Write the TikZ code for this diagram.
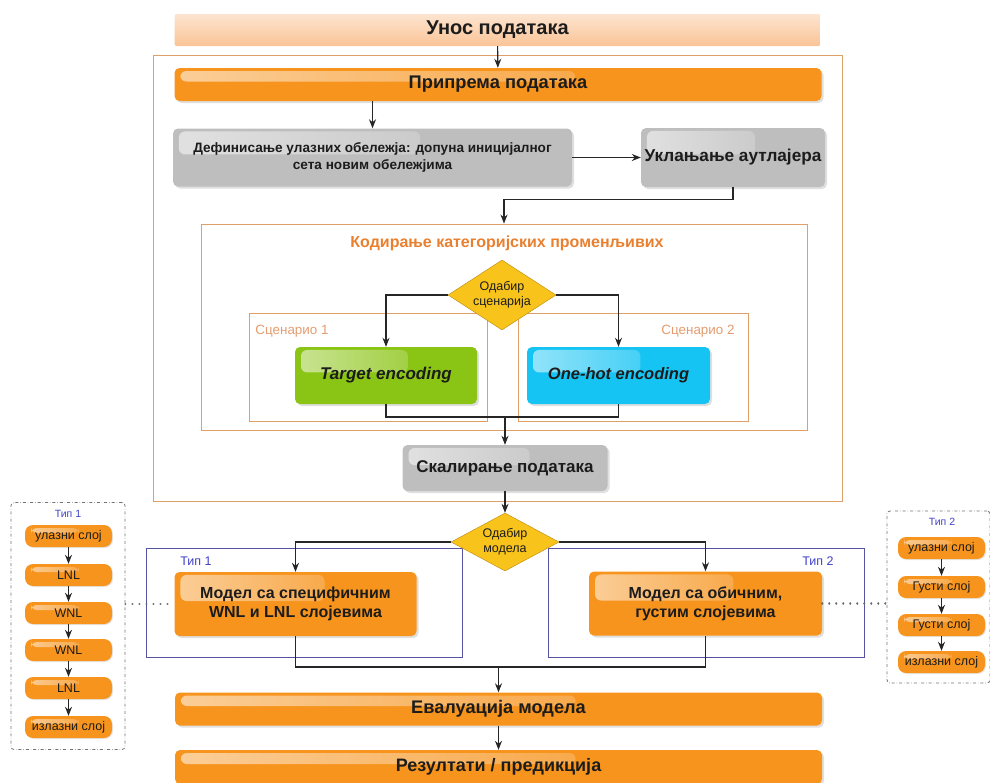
\documentclass[tikz,border=0pt]{standalone}
\usepackage{fontspec}
\setmainfont{Liberation Sans}
\usetikzlibrary{shapes.geometric, arrows.meta, positioning, calc, shadows, fadings}
\definecolor{flowpeach}{RGB}{250,196,150}
\definecolor{floworange}{RGB}{247,148,29}
\definecolor{flowgray}{RGB}{190,190,190}
\definecolor{flowgreen}{RGB}{138,196,20}
\definecolor{flowcyan}{RGB}{22,196,244}
\definecolor{flowgold}{RGB}{248,196,28}
\definecolor{goldedge}{RGB}{185,135,10}
\definecolor{frameorange}{RGB}{222,160,104}
\definecolor{framelabel}{RGB}{232,128,48}
\definecolor{scenlabel}{RGB}{228,156,110}
\definecolor{frameblue}{RGB}{84,84,160}
\definecolor{labelblue}{RGB}{64,64,200}
\definecolor{textdark}{RGB}{28,28,28}

\begin{document}
\begin{tikzpicture}[x=1pt, y=-1pt,
  glossy/.style={path picture={
    \fill[white, opacity=0.55, path fading=east, rounded corners=6pt]
      ($(path picture bounding box.north west)+(6pt,-3pt)$) rectangle
      ($(path picture bounding box.west)!0.62!(path picture bounding box.east)+(0pt,3pt)$);}},
  box/.style={rounded corners=5pt, align=center, text=textdark, inner sep=1pt,
    font=\bfseries\fontsize{16}{19}\selectfont,
    drop shadow={opacity=0.25, shadow xshift=2pt, shadow yshift=-2pt}, glossy},
  orangebox/.style={box, fill=floworange},
  graybox/.style={box, fill=flowgray},
  pill/.style={rounded corners=8pt, fill=floworange, text=textdark, inner sep=1pt,
    minimum width=87pt, minimum height=22pt, font=\fontsize{12.5}{14}\selectfont,
    drop shadow={opacity=0.2, shadow xshift=1pt, shadow yshift=-1pt}, glossy},
  choice/.style={diamond, draw=goldedge, fill=flowgold, aspect=1.6, inner sep=0pt,
    align=center, text=textdark, font=\fontsize{12.5}{15}\selectfont},
  frame/.style={draw=frameorange, line width=0.9pt},
  typeframe/.style={draw=frameblue, line width=0.9pt},
  layerframe/.style={draw=black!55, dash dot, line width=0.8pt, rounded corners=3pt},
  arr/.style={-{Stealth[length=9pt, width=7pt]}, line width=1.1pt, black!85},
  link/.style={line width=1.1pt, black!85},
  dots/.style={line width=2.2pt, black!60, line cap=round, dash pattern=on 0.01pt off 7pt}
]
  \useasboundingbox (0,0) rectangle (990,782);

  % Frames
  \node[frame, minimum width=689pt, minimum height=446pt] (prep) at (497.5,278) {};
  \node[frame, minimum width=606pt, minimum height=206pt] (kodiranje) at (504,327) {};
  \node[font=\bfseries\fontsize{16}{19}\selectfont, text=framelabel] (kodtitle) at (507,243)
    {Кодирање категоријских променљивих};
  \node[frame, minimum width=238pt, minimum height=108pt] (scen1) at (368,367) {};
  \node[frame, minimum width=230pt, minimum height=108pt] (scen2) at (633,367) {};
  \node[font=\fontsize{13.4}{15}\selectfont, text=scenlabel] (scen1lbl) at (292,331) {Сценарио 1};
  \node[font=\fontsize{13.4}{15}\selectfont, text=scenlabel] (scen2lbl) at (698,331) {Сценарио 2};
  \node[typeframe, minimum width=316pt, minimum height=109pt] (tip1) at (304,602.5) {};
  \node[typeframe, minimum width=316pt, minimum height=109pt] (tip2) at (706,602.5) {};
  \node[font=\fontsize{12.5}{14}\selectfont, text=labelblue] (tip1lbl) at (196,561) {Тип 1};
  \node[font=\fontsize{12.5}{14}\selectfont, text=labelblue] (tip2lbl) at (818,561) {Тип 2};

  % Main flow
  \node[rounded corners=2pt, top color=flowpeach!45!white, bottom color=flowpeach,
    minimum width=646pt, minimum height=32pt, text=textdark,
    font=\bfseries\fontsize{20}{23}\selectfont] (unos) at (497.5,30) {Унос података};
  \node[orangebox, minimum width=647pt, minimum height=33pt,
    font=\bfseries\fontsize{18.3}{21}\selectfont] (priprema) at (498,84.5) {Припрема података};
  \node[graybox, minimum width=399pt, minimum height=58pt,
    font=\bfseries\fontsize{13.6}{17}\selectfont] (definisanje) at (372.5,157.5)
    {Дефинисање улазних обележја: допуна иницијалног\\сета новим обележјима};
  \node[graybox, minimum width=184pt, minimum height=59pt,
    font=\bfseries\fontsize{17.2}{20}\selectfont] (uklanjanje) at (733,157.5) {Уклањање аутлајера};
  \node[choice, minimum width=108pt, minimum height=70pt] (odabirS) at (502,295)
    {Одабир\\сценарија};
  \node[box, fill=flowgreen, minimum width=182pt, minimum height=57pt,
    font=\bfseries\itshape\fontsize{17}{20}\selectfont] (target) at (386,375.5) {Target encoding};
  \node[box, fill=flowcyan, minimum width=183pt, minimum height=57pt,
    font=\bfseries\itshape\fontsize{16.5}{20}\selectfont] (onehot) at (618.5,375.5) {One-hot encoding};
  \node[graybox, minimum width=205pt, minimum height=46pt,
    font=\bfseries\fontsize{17}{20}\selectfont] (skaliranje) at (505,468) {Скалирање података};
  \node[choice, minimum width=108pt, minimum height=58pt] (odabirM) at (505,542)
    {Одабир\\модела};
  \node[orangebox, minimum width=242pt, minimum height=64pt] (model1) at (295.5,604)
    {Модел са специфичним\\WNL и LNL слојевима};
  \node[orangebox, minimum width=233pt, minimum height=64pt] (model2) at (705.5,603.5)
    {Модел са обичним,\\густим слојевима};
  \node[orangebox, minimum width=647pt, minimum height=33pt,
    font=\bfseries\fontsize{18.2}{21}\selectfont] (evaluacija) at (498.5,709) {Евалуација модела};
  \node[orangebox, minimum width=647pt, minimum height=34pt,
    font=\bfseries\fontsize{18}{21}\selectfont] (rezultati) at (498.5,767) {Резултати / предикција};

  % Layer stacks
  \node[layerframe, minimum width=114pt, minimum height=247pt] (layers1) at (68,626) {};
  \node[font=\fontsize{10.5}{12}\selectfont, text=labelblue] (layers1lbl) at (68,514) {Тип 1};
  \node[pill] (l1in) at (68.5,536) {улазни слој};
  \node[pill] (l1a) at (68.5,575) {LNL};
  \node[pill] (l1b) at (68.5,613) {WNL};
  \node[pill] (l1c) at (68.5,650) {WNL};
  \node[pill] (l1d) at (68.5,688) {LNL};
  \node[pill] (l1out) at (68.5,727) {излазни слој};

  \node[layerframe, minimum width=103pt, minimum height=172pt] (layers2) at (938.5,597) {};
  \node[font=\fontsize{10.5}{12}\selectfont, text=labelblue] (layers2lbl) at (942,522) {Тип 2};
  \node[pill] (l2in) at (941.5,548) {улазни слој};
  \node[pill] (l2a) at (941.5,587) {Густи слој};
  \node[pill] (l2b) at (941.5,625) {Густи слој};
  \node[pill] (l2out) at (941.5,662) {излазни слој};

  % Connectors
  \draw[arr] (unos) -- (priprema);
  \draw[arr] (priprema.south -| definisanje) -- (definisanje);
  \draw[arr] (definisanje) -- (uklanjanje);
  \draw[arr] (uklanjanje.south) -- ++(0,12) -| (kodiranje.north);
  \draw[arr] (odabirS.west) -| (target.north);
  \draw[arr] (odabirS.east) -| (onehot.north);
  \coordinate (encjoin) at (505,417);
  \draw[link] (target.south) |- (encjoin) -| (onehot.south);
  \draw[arr] (encjoin) -- (skaliranje.north);
  \draw[arr] (skaliranje) -- (odabirM);
  \draw[arr] (odabirM.west) -| (model1.north);
  \draw[arr] (odabirM.east) -| (model2.north);
  \coordinate (modjoin) at (498.5,667);
  \draw[link] (model1.south) |- (modjoin) -| (model2.south);
  \draw[arr] (modjoin) -- (evaluacija.north);
  \draw[arr] (evaluacija) -- (rezultati);

  \draw[arr] (l1in) -- (l1a);
  \draw[arr] (l1a) -- (l1b);
  \draw[arr] (l1b) -- (l1c);
  \draw[arr] (l1c) -- (l1d);
  \draw[arr] (l1d) -- (l1out);
  \draw[arr] (l2in) -- (l2a);
  \draw[arr] (l2a) -- (l2b);
  \draw[arr] (l2b) -- (l2out);

  \draw[dots] (layers1.east |- model1) -- (model1.west);
  \draw[dots] (model2.east) -- (layers2.west |- model2);
\end{tikzpicture}
\end{document}
